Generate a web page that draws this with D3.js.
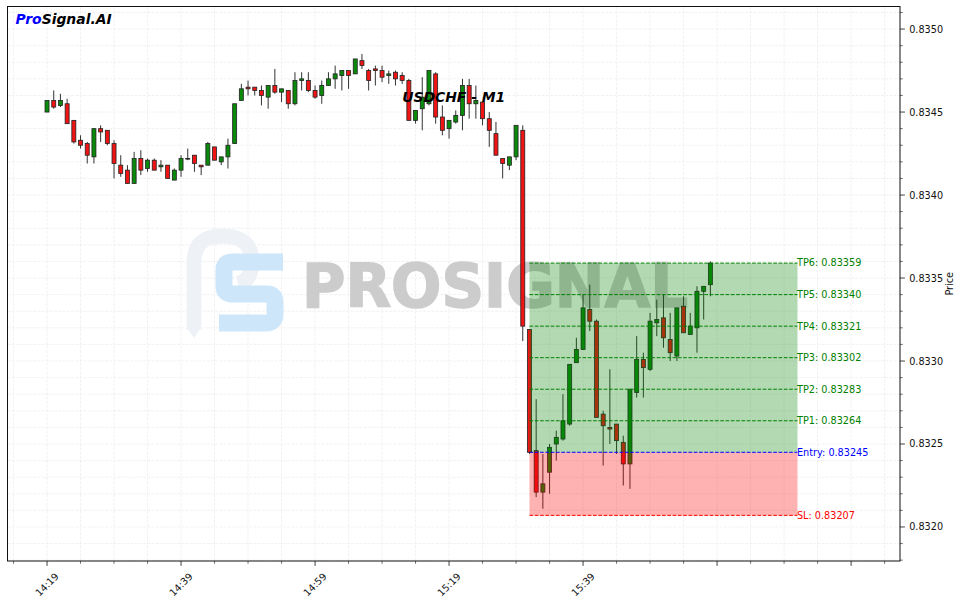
<!DOCTYPE html>
<html><head><meta charset="utf-8">
<script src="https://cdn.jsdelivr.net/npm/d3@7"></script>
<style>html,body{margin:0;padding:0;background:#fff;}svg{display:block;font-family:"DejaVu Sans",sans-serif;}</style>
</head><body><svg id="c" width="962" height="603"></svg>
<script>
const symbol = "USDCHF - M1";
const startTime = "14:19";
const xTickLabels = ["14:19","14:39","14:59","15:19","15:39"];
const opens = [0.83450,0.83457,0.83454,0.83455,0.83445,0.83433,0.83431,0.83423,0.83440,0.83439,
0.83431,0.83418,0.83415,0.83407,0.83422,0.83416,0.83421,0.83417,0.83418,0.83409,
0.83415,0.83422,0.83424,0.83418,0.83418,0.83429,0.83420,0.83423,0.83431,0.83457,
0.83465,0.83465,0.83463,0.83459,0.83466,0.83462,0.83463,0.83455,0.83469,0.83469,
0.83463,0.83460,0.83466,0.83470,0.83472,0.83475,0.83473,0.83481,0.83475,0.83476,
0.83475,0.83472,0.83474,0.83472,0.83469,0.83445,0.83452,0.83455,0.83473,0.83447,
0.83440,0.83444,0.83448,0.83466,0.83455,0.83456,0.83446,0.83437,0.83422,0.83418,
0.83423,0.83439,0.83319,0.83246,0.83221,0.83233,0.83250,0.83253,0.83262,0.83299,
0.83307,0.83331,0.83324,0.83268,0.83260,0.83262,0.83251,0.83238,0.83281,0.83301,
0.83295,0.83323,0.83326,0.83313,0.83303,0.83333,0.83316,0.83320,0.83342,0.83346];
const highs = [0.83457,0.83463,0.83461,0.83458,0.83445,0.83436,0.83432,0.83440,0.83442,0.83439,
0.83433,0.83424,0.83418,0.83426,0.83427,0.83422,0.83422,0.83421,0.83418,0.83416,
0.83424,0.83428,0.83424,0.83418,0.83432,0.83429,0.83423,0.83434,0.83455,0.83467,
0.83469,0.83465,0.83466,0.83466,0.83476,0.83464,0.83463,0.83474,0.83474,0.83474,
0.83466,0.83469,0.83474,0.83478,0.83475,0.83475,0.83482,0.83485,0.83476,0.83478,
0.83478,0.83475,0.83475,0.83474,0.83470,0.83451,0.83471,0.83475,0.83474,0.83454,
0.83445,0.83451,0.83470,0.83470,0.83466,0.83456,0.83450,0.83444,0.83422,0.83423,
0.83442,0.83442,0.83319,0.83277,0.83244,0.83250,0.83258,0.83280,0.83298,0.83314,
0.83340,0.83346,0.83325,0.83270,0.83295,0.83262,0.83255,0.83283,0.83315,0.83305,
0.83329,0.83337,0.83340,0.83329,0.83332,0.83339,0.83329,0.83345,0.83345,0.83360];
const lows = [0.83450,0.83452,0.83453,0.83443,0.83431,0.83428,0.83419,0.83419,0.83432,0.83430,
0.83410,0.83411,0.83407,0.83407,0.83412,0.83414,0.83415,0.83414,0.83410,0.83409,
0.83411,0.83421,0.83414,0.83412,0.83418,0.83421,0.83418,0.83416,0.83431,0.83457,
0.83460,0.83460,0.83454,0.83452,0.83461,0.83456,0.83452,0.83454,0.83463,0.83462,
0.83458,0.83455,0.83466,0.83464,0.83463,0.83464,0.83473,0.83476,0.83463,0.83466,
0.83468,0.83467,0.83466,0.83467,0.83445,0.83443,0.83439,0.83454,0.83443,0.83436,
0.83434,0.83443,0.83439,0.83446,0.83446,0.83442,0.83429,0.83424,0.83410,0.83415,
0.83421,0.83312,0.83244,0.83218,0.83211,0.83220,0.83240,0.83252,0.83261,0.83299,
0.83307,0.83318,0.83266,0.83237,0.83250,0.83244,0.83225,0.83223,0.83278,0.83278,
0.83294,0.83315,0.83308,0.83300,0.83300,0.83317,0.83316,0.83305,0.83325,0.83339];
const closes = [0.83457,0.83453,0.83457,0.83443,0.83432,0.83430,0.83424,0.83440,0.83438,0.83431,
0.83419,0.83413,0.83407,0.83422,0.83415,0.83421,0.83415,0.83418,0.83410,0.83415,
0.83422,0.83422,0.83419,0.83417,0.83431,0.83421,0.83423,0.83430,0.83455,0.83464,
0.83464,0.83463,0.83460,0.83466,0.83462,0.83464,0.83455,0.83469,0.83470,0.83463,
0.83459,0.83466,0.83470,0.83473,0.83475,0.83472,0.83482,0.83478,0.83469,0.83475,
0.83471,0.83473,0.83470,0.83469,0.83445,0.83451,0.83459,0.83475,0.83447,0.83439,
0.83445,0.83448,0.83466,0.83455,0.83457,0.83446,0.83439,0.83424,0.83419,0.83423,
0.83442,0.83321,0.83245,0.83221,0.83226,0.83248,0.83254,0.83264,0.83298,0.83307,
0.83332,0.83324,0.83266,0.83261,0.83259,0.83252,0.83238,0.83283,0.83301,0.83296,
0.83324,0.83325,0.83314,0.83305,0.83332,0.83317,0.83321,0.83342,0.83345,0.83359];
const signalStart = 72, signalEnd = 112;
const entryPrice = 0.83245;
const stopLoss = 0.83207;
const tpNames = ["TP1","TP2","TP3","TP4","TP5","TP6"];
const tpPrices = [0.83264,0.83283,0.83302,0.83321,0.83340,0.83359];
const yTicks = [0.8320,0.8325,0.8330,0.8335,0.8340,0.8345,0.8350];

const svg = d3.select("#c");
const L = 7.5, R = 900, T = 6.5, B = 561;
const x = d3.scaleLinear().domain([-5.9, 127.3]).range([L, R]);
const y = d3.scaleLinear().domain([0.831795, 0.835136]).range([B, T]);
svg.append("rect").attr("width",962).attr("height",603).attr("fill","#fff");
svg.append("defs").append("clipPath").attr("id","clip").append("rect")
  .attr("x",L).attr("y",T).attr("width",R-L).attr("height",B-T);
const plot = svg.append("g").attr("clip-path","url(#clip)");

// grid
const xMajor = d3.range(0, 121, 20);
const xMinor = d3.range(-5, 127, 5).filter(v => v % 20 !== 0);
const yMinor = d3.range(0, 34).map(k => +(0.8318 + k*0.0001).toFixed(4)).filter(v => !yTicks.some(t => Math.abs(t-v) < 1e-9));
const grid = plot.append("g").attr("stroke","#ededed").attr("stroke-width",0.8).attr("stroke-dasharray","2.96,1.28");
xMajor.concat(xMinor).forEach(v => grid.append("line").attr("x1",x(v)).attr("x2",x(v)).attr("y1",T).attr("y2",B));
yTicks.concat(yMinor).forEach(v => grid.append("line").attr("y1",y(v)).attr("y2",y(v)).attr("x1",L).attr("x2",R));

// watermark logo
const wm = plot.append("g");
wm.append("path").attr("d","M194,330 L194,262 Q194,236 222,236 Q252,236 252,262 Q252,280 238,284")
  .attr("fill","none").attr("stroke","#eef2f6").attr("stroke-width",15);
wm.append("path").attr("d","M187,328 L194,338 L201,328 Z").attr("fill","#eef2f6");
wm.append("path").attr("d","M283,262 L232,262 Q224,262 224,270 L224,286 Q224,294 232,294 L267,294 Q275,294 275,302 L275,314 Q275,323 266,323 L219,323")
  .attr("fill","none").attr("stroke","#cde6fa").attr("stroke-width",17);
wm.append("text").attr("x",302).attr("y",307).attr("font-size",60).attr("font-weight",900)
  .attr("font-family","'DejaVu Sans',sans-serif").attr("fill","#cccccc").attr("stroke","#cccccc").attr("stroke-width",1.6)
  .attr("textLength",386).attr("lengthAdjust","spacingAndGlyphs").text("PROSIGNAL");

// candles
const data = opens.map((o,i) => ({i, o, h: highs[i], l: lows[i], c: closes[i]}));
const cg = plot.append("g");
cg.selectAll("line.w").data(data).join("line").attr("class","w")
  .attr("x1",d=>x(d.i)).attr("x2",d=>x(d.i)).attr("y1",d=>y(d.h)).attr("y2",d=>y(d.l))
  .attr("stroke","#333").attr("stroke-width",1);
const bw = 4.0;
cg.selectAll("rect.b").data(data).join("rect").attr("class","b")
  .attr("x",d=>x(d.i)-bw/2).attr("width",bw)
  .attr("y",d=>y(Math.max(d.o,d.c)))
  .attr("height",d=>Math.max(0.6, Math.abs(y(d.o)-y(d.c))))
  .attr("fill",d=>d.c>=d.o?"#0a8a0a":"#f01414").attr("stroke","#222").attr("stroke-width",0.8);

// zones
const zx0 = x(signalStart), zx1 = x(signalEnd);
plot.append("rect").attr("x",zx0).attr("width",zx1-zx0).attr("y",y(tpPrices[5])).attr("height",y(entryPrice)-y(tpPrices[5]))
  .attr("fill","green").attr("fill-opacity",0.3);
plot.append("rect").attr("x",zx0).attr("width",zx1-zx0).attr("y",y(entryPrice)).attr("height",y(stopLoss)-y(entryPrice))
  .attr("fill","red").attr("fill-opacity",0.3);
const lv = tpPrices.map((p,k)=>({p, label: tpNames[k]+": "+p.toFixed(5), col:"green"}))
  .concat([{p:entryPrice,label:"Entry: "+entryPrice.toFixed(5),col:"blue"},{p:stopLoss,label:"SL: "+stopLoss.toFixed(5),col:"red"}]);
lv.forEach(d => {
  plot.append("line").attr("x1",zx0).attr("x2",zx1).attr("y1",y(d.p)).attr("y2",y(d.p))
    .attr("stroke",d.col).attr("stroke-width",1).attr("stroke-dasharray","3.7,1.6");
  svg.append("text").attr("x",zx1-0.5).attr("y",y(d.p)).attr("dy","0.35em").attr("font-size",9.7)
    .attr("fill",d.col).text(d.label);
});

// spines
svg.append("rect").attr("x",L).attr("y",T).attr("width",R-L).attr("height",B-T)
  .attr("fill","none").attr("stroke","#111").attr("stroke-width",1);

// y axis (right)
const ya = svg.append("g");
yTicks.forEach(v => {
  ya.append("line").attr("x1",R).attr("x2",R+4.9).attr("y1",y(v)).attr("y2",y(v)).attr("stroke","#111").attr("stroke-width",0.8);
  ya.append("text").attr("x",R+9.2).attr("y",y(v)).attr("dy","0.36em").attr("font-size",9.7).attr("fill","#111").text(d3.format(".4f")(v));
});
yMinor.forEach(v => { if (y(v) > T && y(v) < B) ya.append("line").attr("x1",R).attr("x2",R+2.8).attr("y1",y(v)).attr("y2",y(v)).attr("stroke","#111").attr("stroke-width",0.6); });
svg.append("text").attr("transform",`translate(953,${(T+B)/2}) rotate(-90)`).attr("text-anchor","middle")
  .attr("font-size",9.7).attr("fill","#111").text("Price");

// x axis
const xa = svg.append("g");
xMajor.forEach((v,k) => {
  xa.append("line").attr("x1",x(v)).attr("x2",x(v)).attr("y1",B).attr("y2",B+4.9).attr("stroke","#111").attr("stroke-width",0.8);
  if (k < xTickLabels.length && v < opens.length) {
    xa.append("text").attr("transform",`translate(${x(v)},${B+23.5}) rotate(-45)`).attr("text-anchor","middle")
      .attr("dy","0.35em").attr("font-size",9.7).attr("fill","#111").text(xTickLabels[k]);
  }
});
xMinor.forEach(v => xa.append("line").attr("x1",x(v)).attr("x2",x(v)).attr("y1",B).attr("y2",B+2.8).attr("stroke","#111").attr("stroke-width",0.6));

// titles
svg.append("text").attr("x",(L+R)/2).attr("y",101.5).attr("text-anchor","middle").attr("font-size",13.9)
  .attr("font-weight","bold").attr("font-style","italic").attr("fill","#000").text(symbol);
const brand = svg.append("text").attr("x",15.5).attr("y",23.5).attr("font-size",13.9).attr("font-weight","bold").attr("font-style","italic");
brand.append("tspan").attr("fill","#0000ff").text("Pro");
brand.append("tspan").attr("fill","#000").text("Signal.AI");
</script></body></html>
